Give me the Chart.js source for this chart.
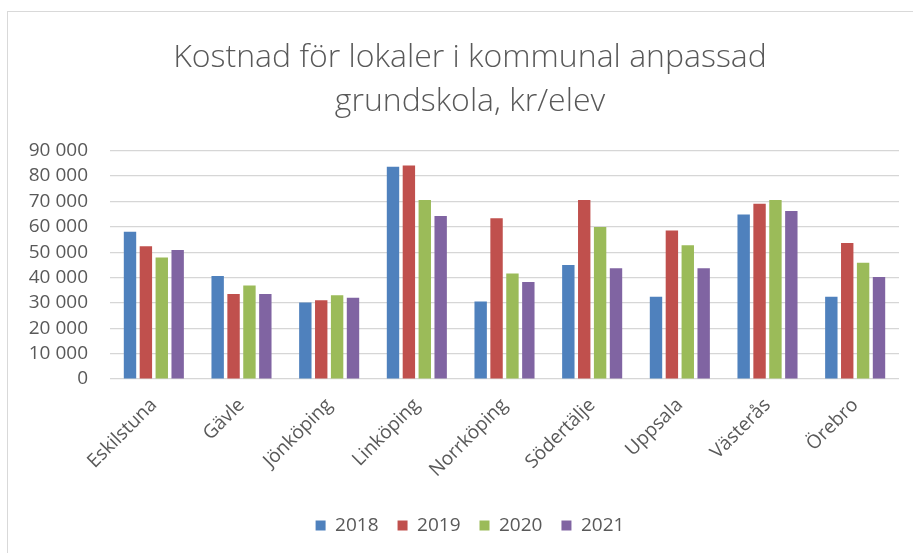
<!DOCTYPE html>
<html>
<head>
<meta charset="utf-8">
<script src="https://cdn.jsdelivr.net/npm/chart.js@4"></script>
<style>
  html, body { margin: 0; padding: 0; background: #fff; overflow: hidden; width: 913px; height: 553px; }
  #frame { position: absolute; left: 7px; top: 11px; width: 940px; height: 600px; border: 1px solid #d9d9d9; box-sizing: border-box; }
  #wrap { position: absolute; left: 0; top: 0; width: 940px; height: 553px; }
</style>
</head>
<body>
<div id="frame"></div>
<div id="wrap"><canvas id="c" width="940" height="553"></canvas></div>
<script>
const categories = ["Eskilstuna", "Gävle", "Jönköping", "Linköping", "Norrköping", "Södertälje", "Uppsala", "Västerås", "Örebro"];
const series2018 = [58000, 40600, 30100, 83600, 30500, 44900, 32400, 64800, 32400];
const series2019 = [52300, 33500, 31000, 84100, 63300, 70500, 58500, 69100, 53600];
const series2020 = [47900, 36800, 33000, 70500, 41600, 59900, 52700, 70500, 45800];
const series2021 = [50800, 33500, 32000, 64200, 38200, 43600, 43600, 66200, 40200];
const seriesNames = ["2018", "2019", "2020", "2021"];
const titleLines = ["Kostnad för lokaler i kommunal anpassad", "grundskola, kr/elev"];
const yMax = 90000;
const yStep = 10000;

const colors = ["#4f81bd", "#c0504d", "#9bbb59", "#8064a2"];
const allSeries = [series2018, series2019, series2020, series2021];

function fmt(v) {
  return String(v).replace(/\B(?=(\d{3})+(?!\d))/g, "\u00a0");
}

const textColor = "#595959";

new Chart(document.getElementById("c"), {
  type: "bar",
  data: {
    labels: categories,
    datasets: allSeries.map((d, i) => ({
      label: seriesNames[i],
      data: d,
      backgroundColor: colors[i],
      borderWidth: 0,
      categoryPercentage: 0.725,
      barPercentage: 0.78
    }))
  },
  options: {
    responsive: false,
    animation: false,
    devicePixelRatio: 1,
    layout: { padding: { left: 0, right: 0, top: 0, bottom: 8 } },
    plugins: {
      title: {
        display: true,
        text: titleLines,
        color: textColor,
        font: { family: "'Open Sans'", size: 32, weight: "300", lineHeight: 1.4 },
        padding: { top: 35, bottom: 26 }
      },
      legend: {
        display: true,
        position: "bottom",
        labels: {
          color: textColor,
          font: { family: "'Open Sans'", size: 19 },
          boxWidth: 10,
          boxHeight: 10,
          padding: 19
        }
      },
      tooltip: { enabled: false }
    },
    scales: {
      x: {
        grid: { display: false },
        border: { display: false },
        ticks: {
          color: textColor,
          font: { family: "'Open Sans'", size: 19 },
          maxRotation: 45,
          minRotation: 45,
          autoSkip: false,
          padding: 7
        },
        afterFit: (s) => { s.height = 118; }
      },
      y: {
        min: 0,
        max: yMax,
        grid: { color: "#d6d6d6", lineWidth: 1.2, drawTicks: false },
        border: { display: false },
        ticks: {
          stepSize: yStep,
          autoSkip: false,
          color: textColor,
          font: { family: "'Open Sans'", size: 19 },
          padding: 22,
          callback: (v) => fmt(v)
        },
        afterFit: (s) => { s.width = 110; }
      },
      yRight: {
        type: "linear",
        position: "right",
        display: true,
        grid: { display: false, drawTicks: false },
        border: { display: false },
        ticks: { display: false },
        afterFit: (s) => { s.width = 41; }
      }
    }
  }
});
</script>
</body>
</html>
